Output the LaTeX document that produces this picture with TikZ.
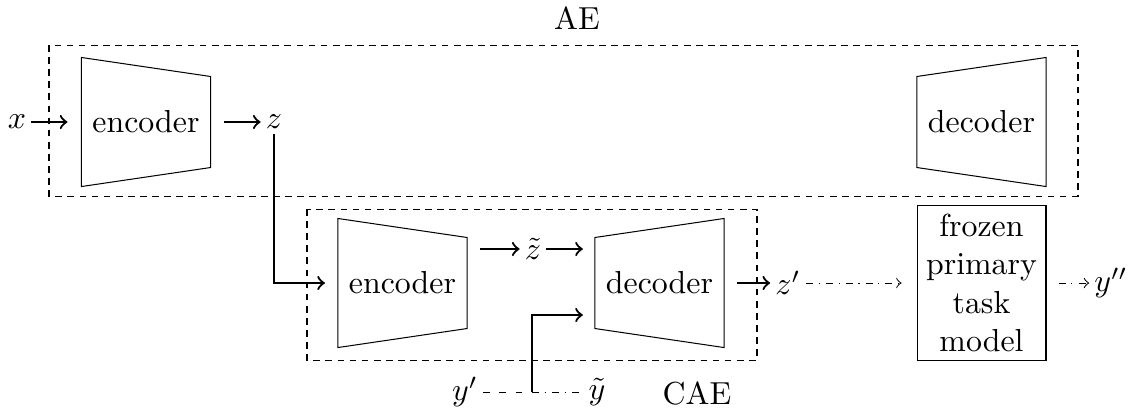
\documentclass[tikz,border=0pt]{standalone}
\usetikzlibrary{calc}
\begin{document}
\begin{tikzpicture}[x=0.314pt,y=-0.314pt, line width=0.32pt,
  lbl/.style={inner sep=1.5pt},
  blk/.style={minimum width=40.2pt, minimum height=40.2pt, inner sep=0pt},
  arr/.style={->, line width=0.7pt},
  grp/.style={dash pattern=on 2.1pt off 1.7pt},
  ydash/.style={dash pattern=on 2.1pt off 3pt},
  dd/.style={dash pattern=on 2.2pt off 1.8pt on 0.35pt off 1.9pt},
  fwd/.style={->, dd},
]
\useasboundingbox (0,0) rectangle (1140,413);

% group boxes
\draw[grp] (49,45) rectangle (1078,196);
\draw[grp] (307,209) rectangle (757,360);
\node (ae) at (577,18) {AE};
\node (cae) at (697,393) {CAE};

% encoders / decoders
\node[blk] (enc1) at (146,122) {encoder};
\draw (enc1.north west) -- ($(enc1.north east)+(0,19)$) -- ($(enc1.south east)+(0,-19)$) -- (enc1.south west) -- cycle;
\node[blk] (dec1) at (981.5,122) {decoder};
\draw ($(dec1.north west)+(0,19)$) -- (dec1.north east) -- (dec1.south east) -- ($(dec1.south west)+(0,-19)$) -- cycle;
\node[blk] (enc2) at (402.5,283) {encoder};
\draw (enc2.north west) -- ($(enc2.north east)+(0,19)$) -- ($(enc2.south east)+(0,-19)$) -- (enc2.south west) -- cycle;
\node[blk] (dec2) at (659.5,283) {decoder};
\draw ($(dec2.north west)+(0,19)$) -- (dec2.north east) -- (dec2.south east) -- ($(dec2.south west)+(0,-19)$) -- cycle;

\node[draw, minimum width=40.5pt, minimum height=48.4pt, align=center, inner sep=0pt] (fz) at (981.5,283) {frozen\\primary\\task\\model};

% labels
\node[lbl] (x) at (17,122) {$x$};
\node[lbl] (z) at (274,122) {$z$};
\node[lbl] (zt) at (533,249) {$\tilde z$};
\node[lbl] (zp) at (788,283) {$z'$};
\node[lbl] (ypp) at (1111,283) {$y''$};
\node[lbl] (yp) at (465,392) {$y'$};
\node[lbl] (yt) at (597,392) {$\tilde y$};
\coordinate (j) at (532,392);

% connectors
\draw[arr, shorten >=4.4pt] (x) -- (enc1);
\draw[arr, shorten <=4.1pt] (enc1) -- (z);
\draw[arr, shorten >=4.1pt] (z) |- (enc2);
\draw[arr, shorten <=4.1pt] (enc2.east |- zt) -- (zt);
\draw[arr, shorten >=3.8pt] (zt) -- (dec2.west |- zt);
\draw[ydash] (yp) -- (j);
\draw[dd] (j) -- (yt);
\draw[arr, shorten >=3.8pt] (j) |- ($(dec2.west)+(0,32)$);
\draw[arr, shorten <=4.1pt] (dec2) -- (zp);
\draw[fwd, shorten >=4.7pt] (zp) -- (fz);
\draw[fwd, shorten <=3.8pt] (fz) -- (ypp);
\end{tikzpicture}
\end{document}
